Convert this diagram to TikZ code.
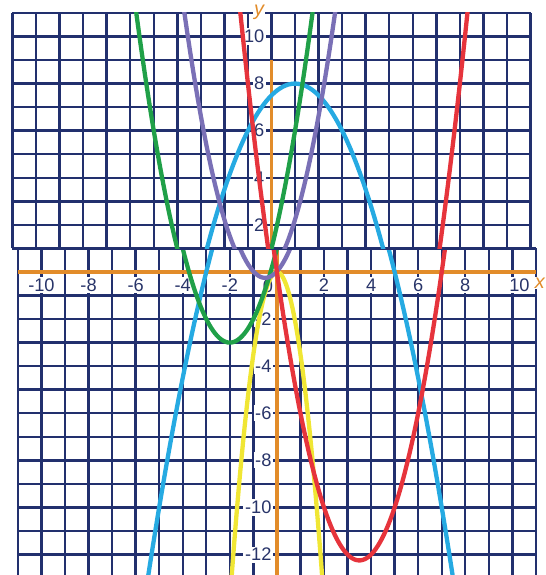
\documentclass[tikz,border=0pt]{standalone}
\usepackage{fontspec}
\setmainfont{Liberation Sans}
\definecolor{gridblue}{RGB}{34,48,110}
\definecolor{numblue}{RGB}{40,52,105}
\definecolor{axisorange}{RGB}{226,140,42}
\definecolor{pgreen}{RGB}{32,160,72}
\definecolor{ppurple}{RGB}{122,112,182}
\definecolor{pred}{RGB}{230,52,60}
\definecolor{pblue}{RGB}{38,170,226}
\definecolor{pyellow}{RGB}{240,230,52}
% the five parabolas, drawn once per part of the sheet
\newcommand\parabolas{%
  \draw[curve, pyellow] plot[domain=-2:2] (\x, {-3.5*\x*\x});
  \draw[curve, pblue]   plot[domain=-6:8] (\x, {-0.5*(\x-1)*(\x-1)+8});
  \draw[curve, pgreen]  plot[domain=-6:2] (\x, {(\x+2)*(\x+2)-3});
  \draw[curve, ppurple] plot[domain=-4:3] (\x, {1.1*(\x+0.5)*(\x+0.5)-0.25});
  \draw[curve, pred]    plot[domain=-1.5:8.5] (\x, {\x*\x-7*\x});
}
\begin{document}
\begin{tikzpicture}[x=0.5cm, y=0.5cm, font=\fontsize{11}{13}\selectfont,
    sheet/.style={draw=gridblue, line width=1.45pt, step=0.5cm},
    axis/.style={draw=axisorange, line width=2.3pt},
    curve/.style={line width=2.6pt, samples=120, line cap=round},
    num/.style={text=numblue, fill=white, inner sep=1pt},
    axlbl/.style={text=axisorange, fill=white, inner sep=0.5pt, font=\fontsize{12}{14}\selectfont\itshape}]
  \useasboundingbox (-11.76,-12.87) rectangle (11.42,11.55);
  % lower part of the sheet
  \draw[sheet] (-11,-13) grid (11,1);
  \draw[axis] (-11,0) -- (11,0);
  \draw[axis] (0,1) -- (0,-13);
  \foreach \v in {-10,-8,-6,-4,-2,2,4,6,8}
    \node[num] (xl\v) at (\v,-0.56) {\v};
  \node[num] (xl0)  at (-0.38,-0.6) {0};
  \node[num] (xl10) at (10.3,-0.56) {10};
  \node[axlbl] (xname) at (11.17,-0.47) {x};
  \foreach \v in {-2,-4,-6,-8,-10,-12}
    \node[num, anchor=east] (yl\v) at (-0.15,\v) {\v};
  \begin{scope}
    \clip (-11,-13) rectangle (11,1);
    \parabolas
  \end{scope}
  % upper part, pasted a little to the left
  \begin{scope}[xshift=-0.115cm]
    \draw[sheet] (-11,1) grid (11,11);
    \draw[axis] (0,9) -- (0,1);
    \foreach \v in {2,4,6,8,10}
      \node[num, anchor=east] (yl\v) at (-0.22,\v) {\v};
    \node[axlbl] (yname) at (-0.53,11.04) {y};
    \begin{scope}
      \clip (-11,1) rectangle (11,11);
      \parabolas
    \end{scope}
  \end{scope}
\end{tikzpicture}
\end{document}
